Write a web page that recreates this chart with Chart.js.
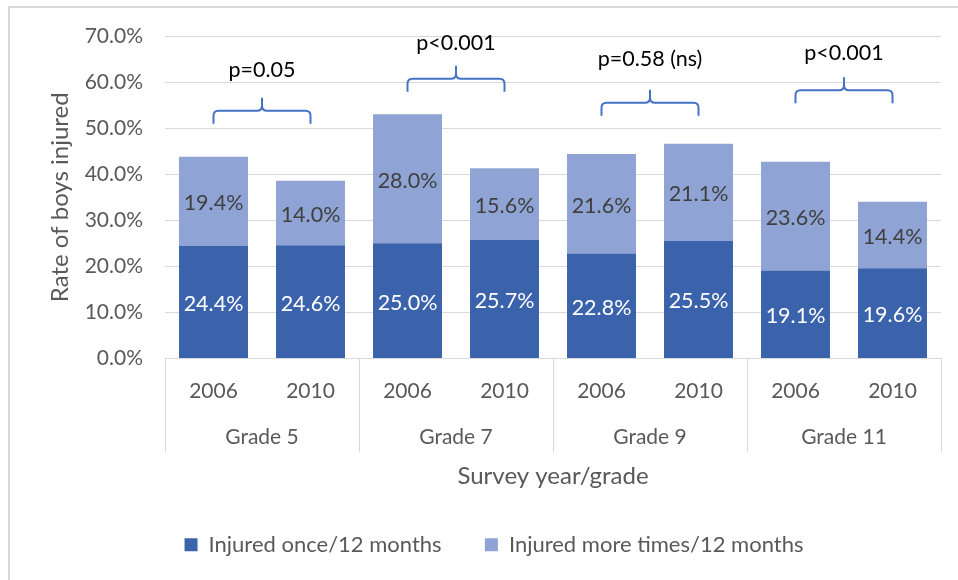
<!DOCTYPE html>
<html><head><meta charset="utf-8">
<script src="https://cdn.jsdelivr.net/npm/chart.js@4.4.1/dist/chart.umd.min.js"></script>
<style>
html,body{margin:0;padding:0;background:#fff;}
#wrap{position:relative;width:958px;height:580px;overflow:hidden;}
#frame{position:absolute;left:8px;top:6px;width:1000px;height:600px;border-top:2px solid #d9d9d9;border-left:2px solid #d9d9d9;}
canvas{position:absolute;left:0;top:0;}
</style></head><body>
<div id="wrap"><div id="frame"></div><canvas id="c" width="958" height="580"></canvas></div>
<script>
// ---- data ----
const years = ['2006','2010','2006','2010','2006','2010','2006','2010'];
const grades = ['Grade 5','Grade 7','Grade 9','Grade 11'];
const injuredOnce = [24.4, 24.6, 25.0, 25.7, 22.8, 25.5, 19.1, 19.6];
const injuredMore = [19.4, 14.0, 28.0, 15.6, 21.6, 21.1, 23.6, 14.4];
const seriesNames = ['Injured once/12 months', 'Injured more times/12 months'];
const pValues = ['p=0.05', 'p<0.001', 'p=0.58 (ns)', 'p<0.001'];
const braceLevels = [53.8, 60.7, 55.5, 58.2];
const pLabelLevels = [62.5, 68.5, 64.9, 66.4];

const FONT = 'Lato';
const labelColors = ['#ffffff', '#404040'];

const valueLabels = {
  id: 'valueLabels',
  afterDatasetsDraw(chart) {
    const ctx = chart.ctx;
    ctx.save();
    ctx.font = '21.5px ' + FONT;
    ctx.textAlign = 'center';
    ctx.textBaseline = 'middle';
    chart.data.datasets.forEach((ds, di) => {
      const meta = chart.getDatasetMeta(di);
      ctx.fillStyle = labelColors[di];
      meta.data.forEach((bar, i) => {
        ctx.fillText(ds.data[i].toFixed(1) + '%', bar.x, (bar.y + bar.base) / 2 + 2);
      });
    });
    ctx.restore();
  }
};

const braces = {
  id: 'braces',
  afterDraw(chart) {
    const ctx = chart.ctx;
    const xs = chart.scales.x, ys = chart.scales.y;
    ctx.save();
    pValues.forEach((p, g) => {
      const x1 = xs.getPixelForValue(2 * g), x2 = xs.getPixelForValue(2 * g + 1);
      const xm = (x1 + x2) / 2;
      const yl = ys.getPixelForValue(braceLevels[g]);
      const h = 13, r = 5;
      ctx.strokeStyle = '#4472C4';
      ctx.lineWidth = 2;
      ctx.lineJoin = 'round';
      ctx.beginPath();
      ctx.moveTo(x1, yl + h);
      ctx.lineTo(x1, yl + r);
      ctx.quadraticCurveTo(x1, yl, x1 + r, yl);
      ctx.lineTo(xm - r, yl);
      ctx.quadraticCurveTo(xm, yl, xm, yl - r);
      ctx.lineTo(xm, yl - h);
      ctx.moveTo(xm, yl - r);
      ctx.quadraticCurveTo(xm, yl, xm + r, yl);
      ctx.lineTo(x2 - r, yl);
      ctx.quadraticCurveTo(x2, yl, x2, yl + r);
      ctx.lineTo(x2, yl + h);
      ctx.stroke();
      ctx.fillStyle = '#000000';
      ctx.font = '21.5px ' + FONT;
      ctx.textAlign = 'center';
      ctx.textBaseline = 'middle';
      ctx.fillText(p, xm, ys.getPixelForValue(pLabelLevels[g]));
    });
    ctx.restore();
  }
};

new Chart(document.getElementById('c'), {
  type: 'bar',
  data: {
    labels: years,
    datasets: [
      { label: seriesNames[0], data: injuredOnce, backgroundColor: '#3B63AC', categoryPercentage: 0.711, barPercentage: 1 },
      { label: seriesNames[1], data: injuredMore, backgroundColor: '#8FA4D4', categoryPercentage: 0.711, barPercentage: 1 }
    ]
  },
  options: {
    responsive: false,
    animation: false,
    devicePixelRatio: 1,
    layout: { padding: { left: 47, right: 17, top: 36, bottom: 14.25 } },
    plugins: {
      legend: {
        position: 'bottom',
        labels: { boxWidth: 13, boxHeight: 13, padding: 43.25, color: '#595959', font: { family: FONT, size: 22 } }
      },
      tooltip: { enabled: false }
    },
    scales: {
      x: {
        stacked: true,
        offset: true,
        grid: {
          display: true, drawOnChartArea: false, drawTicks: true, tickLength: 94, offset: true, lineWidth: 1,
          color: c => (c.index === undefined || c.index % 2 === 0) ? '#d9d9d9' : 'rgba(0,0,0,0)'
        },
        border: { display: true, color: '#d9d9d9' },
        ticks: { color: '#595959', font: { family: FONT, size: 21 }, padding: -73.6, maxRotation: 0, autoSkip: false },
        afterFit: s => { s.height = 40; }
      },
      x2: {
        type: 'category',
        labels: grades,
        position: 'bottom',
        offset: true,
        grid: { display: false, drawTicks: false },
        border: { display: false },
        ticks: { color: '#595959', font: { family: FONT, size: 21 }, padding: 26.4, maxRotation: 0, autoSkip: false },
        title: { display: true, text: 'Survey year/grade', color: '#595959', font: { family: FONT, size: 24 }, padding: { top: 0, bottom: 0 } },
        afterFit: s => { s.height = 92; }
      },
      y: {
        stacked: true,
        min: 0,
        max: 70,
        ticks: { stepSize: 10, callback: v => Number(v).toFixed(1) + '%', color: '#595959', font: { family: FONT, size: 21 }, padding: 22 },
        grid: { color: '#d9d9d9', drawTicks: false },
        border: { display: false },
        title: { display: true, text: 'Rate of boys injured', color: '#595959', font: { family: FONT, size: 24 }, padding: { top: -1.5, bottom: 0 } },
        afterFit: s => { s.width = 118; }
      }
    }
  },
  plugins: [valueLabels, braces]
});
</script>
</body></html>
